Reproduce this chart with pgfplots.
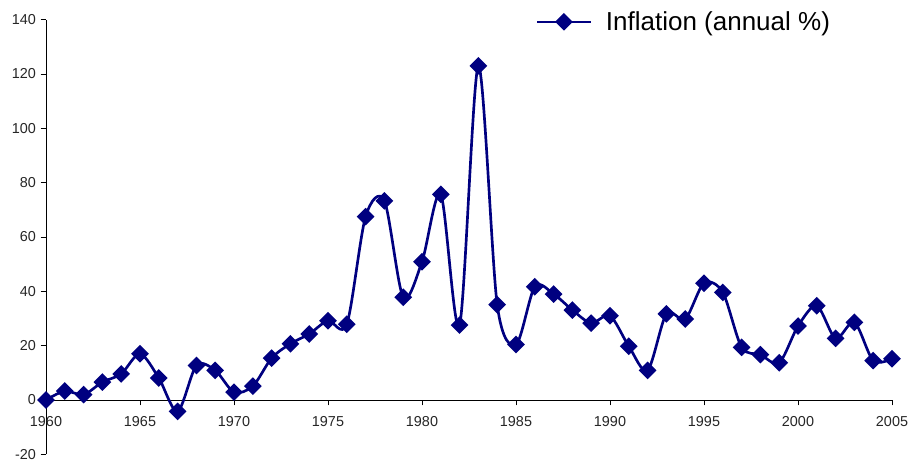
\documentclass[border=0pt]{standalone}
\usepackage{fontspec}
\setmainfont{Liberation Sans}
\usepackage{pgfplots}
\pgfplotsset{compat=1.18}
\definecolor{navyc}{RGB}{0,0,128}
\begin{document}
\begin{tikzpicture}
\begin{axis}[
  name=ax,
  scale only axis,
  width=634.5pt, height=326pt,
  xmin=1960, xmax=2005, ymin=-20, ymax=140,
  axis x line*=middle, axis y line*=left,
  hide obscured x ticks=false, hide obscured y ticks=false,
  xtick={1960,1965,...,2005}, ytick={-20,0,...,140},
  minor tick num=0,
  tick align=outside, major tick length=4pt,
  tick style={black, line width=0.6pt},
  axis line style={black, line width=0.6pt},
  /pgf/number format/assume math mode=true,
  /pgf/number format/1000 sep={},
  ticklabel style={font=\fontsize{10.8}{13}\selectfont, text=black!85},
  xticklabel style={yshift=-5pt},
  yticklabel style={inner ysep=0pt},
  clip=false,
  legend style={draw=none, fill=none, at={(rel axis cs:0.927,0.995)}, anchor=east,
    font=\fontsize{19.5}{23}\selectfont, inner sep=0pt,
    nodes={inner sep=0pt, outer sep=0pt}, legend cell align=left},
  legend image code/.code={\draw[mark repeat=2, mark phase=2, #1] plot coordinates {(0pt,0pt)(20pt,0pt)(40pt,0pt)}; \path (50.5pt,0pt);},
]
\addplot[navyc, line width=2pt, smooth, tension=0.5, mark=square*, mark size=3.7pt,
  mark options={rotate=45, solid, fill=navyc, draw=navyc}] coordinates {
(1960,0) (1961,3.3) (1962,2.0) (1963,6.6) (1964,9.6) (1965,17.0) (1966,8.1) (1967,-4.2)
(1968,12.7) (1969,10.9) (1970,2.9) (1971,5.1) (1972,15.4) (1973,20.7) (1974,24.3)
(1975,29.2) (1976,27.9) (1977,67.5) (1978,73.3) (1979,37.8) (1980,50.9) (1981,75.7)
(1982,27.6) (1983,123.0) (1984,35.1) (1985,20.4) (1986,41.7) (1987,39.0) (1988,33.1)
(1989,28.3) (1990,31.0) (1991,19.8) (1992,10.9) (1993,31.7) (1994,29.8) (1995,43.0)
(1996,39.6) (1997,19.4) (1998,16.7) (1999,13.7) (2000,27.2) (2001,34.7) (2002,22.7)
(2003,28.6) (2004,14.5) (2005,15.2)
};
\addlegendentry{Inflation (annual \%)}
\end{axis}
\pgfresetboundingbox
\path[use as bounding box] ([shift={(-34.5pt,-5pt)}]ax.south west) rectangle ([shift={(648pt,340.75pt)}]ax.south west);
\end{tikzpicture}
\end{document}
